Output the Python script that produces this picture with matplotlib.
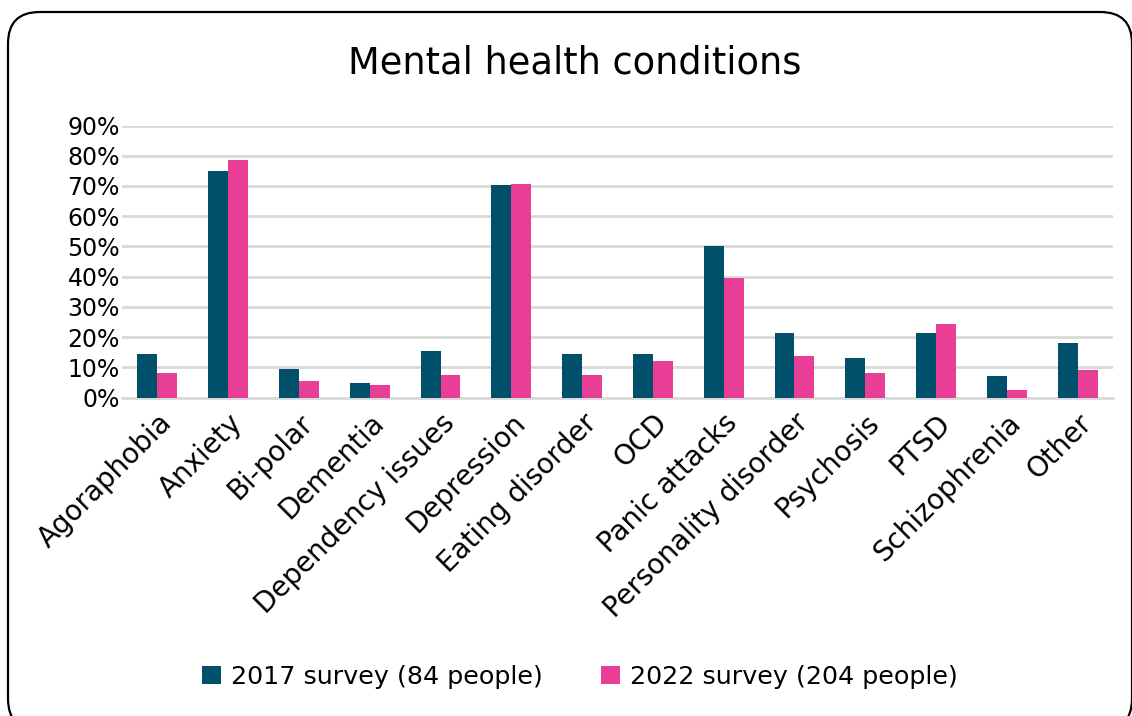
import matplotlib
matplotlib.use('Agg')
import matplotlib.pyplot as plt
import numpy as np
from matplotlib.patches import FancyBboxPatch
from matplotlib.ticker import PercentFormatter

plt.rcParams['font.family'] = ['DejaVu Sans']

# Datos de la encuesta
condiciones = ['Agoraphobia', 'Anxiety', 'Bi-polar', 'Dementia', 'Dependency issues',
               'Depression', 'Eating disorder', 'OCD', 'Panic attacks',
               'Personality disorder', 'Psychosis', 'PTSD', 'Schizophrenia', 'Other']
encuesta_2017 = [14.3, 75.0, 9.5, 4.8, 15.5, 70.2, 14.3, 14.3, 50.0, 21.4, 13.1, 21.4, 7.1, 17.9]
encuesta_2022 = [8.0, 78.5, 5.4, 4.2, 7.6, 70.5, 7.3, 12.0, 39.7, 13.6, 8.0, 24.3, 2.5, 9.2]
etiquetas_series = ['2017 survey (84 people)', '2022 survey (204 people)']
colores = ['#00506b', '#e83e96']

fig = plt.figure(figsize=(11.32, 7.16), dpi=100)

# Marco redondeado alrededor del gráfico
marco = FancyBboxPatch((8 / 1132, -0.02), (1124 / 1132), (704 / 716) + 0.02,
                       boxstyle='round,pad=0,rounding_size=0.028',
                       transform=fig.transFigure, fill=False, edgecolor='black',
                       linewidth=1.6, mutation_aspect=1132 / 716)
fig.patches.append(marco)

ax = fig.add_axes([122 / 1132, 1 - 397.5 / 716, (1113 - 122) / 1132, (397.5 - 125.5) / 716])

x = np.arange(len(condiciones))
ancho = 0.282
ax.bar(x - ancho / 2, encuesta_2017, ancho, color=colores[0], label=etiquetas_series[0], zorder=3)
ax.bar(x + ancho / 2, encuesta_2022, ancho, color=colores[1], label=etiquetas_series[1], zorder=3)

ax.set_xlim(-0.5, len(condiciones) - 0.5)
ax.set_ylim(0, 90)
ax.set_yticks(np.arange(0, 91, 10))
ax.yaxis.set_major_formatter(PercentFormatter(decimals=0))
ax.grid(axis='y', color='#d9d9d9', linewidth=2, zorder=0)
for lado in ['top', 'right', 'left']:
    ax.spines[lado].set_visible(False)
ax.spines['bottom'].set_color('#d9d9d9')
ax.spines['bottom'].set_linewidth(2)
ax.tick_params(axis='both', length=0, colors='black')
ax.tick_params(axis='y', labelsize=17, pad=1.5)
ax.tick_params(axis='x', pad=8)
ax.set_xticks(x)
ax.set_xticklabels(condiciones, rotation=45, ha='right', rotation_mode='anchor', fontsize=20)

fig.text(575 / 1132, 1 - 63 / 716, 'Mental health conditions', ha='center', va='center', fontsize=26.5)

fig.legend(loc='center', bbox_to_anchor=(580 / 1132, 1 - 677 / 716), ncol=2, frameon=False,
           fontsize=18.3, handlelength=0.75, handleheight=0.75, handletextpad=0.4, columnspacing=2.3)

fig.savefig('out.png', dpi=100)
